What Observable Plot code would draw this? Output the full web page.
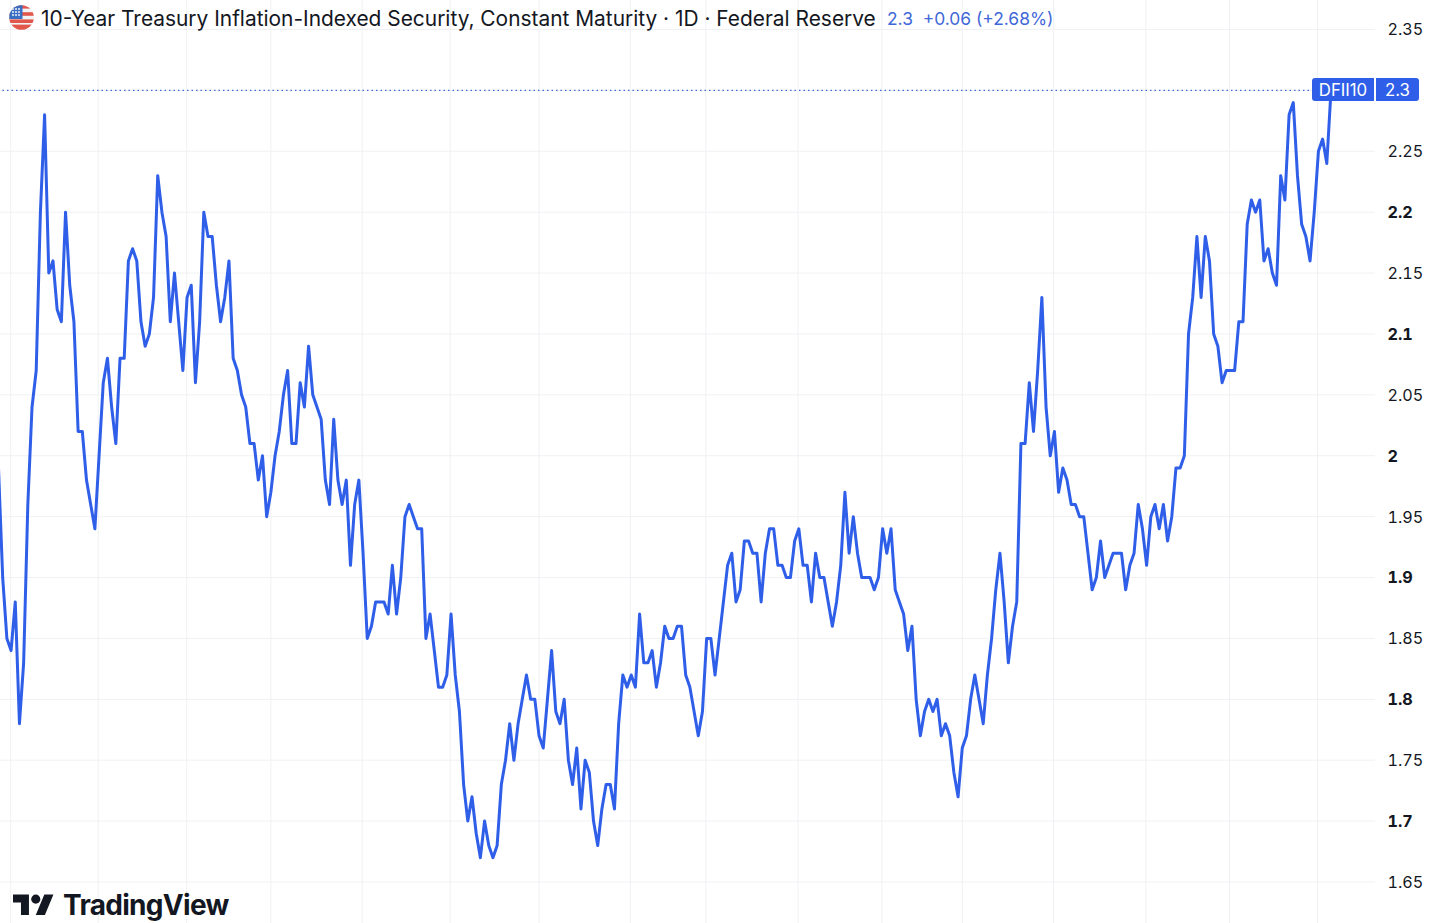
<!DOCTYPE html>
<html>
<head>
<meta charset="utf-8">
<script src="https://cdn.jsdelivr.net/npm/d3@7"></script>
<script src="https://cdn.jsdelivr.net/npm/@observablehq/plot@0.6"></script>
<style>
  html,body{margin:0;padding:0;background:#fff;width:1440px;height:923px;overflow:hidden;font-family:Inter,"Noto Sans",sans-serif;}
  #chart{position:absolute;left:0;top:0;width:1440px;height:923px;}
  #chart svg{display:block;font-family:Inter,sans-serif;}
  .ov{position:absolute;white-space:nowrap;}
  #title{left:41px;top:6px;font-size:20.9px;line-height:25px;color:#131722;}
  #quote{left:887px;top:7px;font-size:17.4px;line-height:23px;color:#3f68d8;}
  #tag{left:1312px;top:78px;width:107px;height:23px;background:#2f5fe8;border-radius:3px;color:#fff;font-size:16.8px;line-height:25px;}
  #tag span{position:absolute;top:0;text-align:center;}
  #sep{position:absolute;left:62px;top:0;width:2px;height:23px;background:#fff;}
  #flag{left:9px;top:5px;}
  #logo{left:13px;top:890px;}
  #brand{left:63px;top:887px;font-size:28px;line-height:36px;font-weight:700;letter-spacing:-0.7px;color:#131722;}
</style>
</head>
<body>
<div id="chart"></div>
<svg id="flag" class="ov" width="25" height="25" viewBox="0 0 25 25">
  <defs><clipPath id="disc"><circle cx="12.5" cy="12.5" r="12.3"/></clipPath></defs>
  <g clip-path="url(#disc)">
    <rect width="25" height="25" fill="#f2f3f5"/>
    <rect y="0" width="25" height="3.6" fill="#e2574c"/>
    <rect y="7.2" width="25" height="3.6" fill="#e2574c"/>
    <rect y="14.4" width="25" height="3.6" fill="#e2574c"/>
    <rect y="19.6" width="25" height="5.4" fill="#e2574c"/>
    <rect width="13.5" height="14" fill="#3b6fc4"/>
    <g fill="#fff"><circle cx="4" cy="4" r=".9"/><circle cx="7" cy="4" r=".9"/><circle cx="10" cy="4" r=".9"/><circle cx="4" cy="7" r=".9"/><circle cx="7" cy="7" r=".9"/><circle cx="10" cy="7" r=".9"/><circle cx="4" cy="10" r=".9"/><circle cx="7" cy="10" r=".9"/><circle cx="10" cy="10" r=".9"/></g>
  </g>
</svg>
<div id="title" class="ov">10-Year Treasury Inflation-Indexed Security, Constant Maturity · 1D · Federal Reserve</div>
<div id="quote" class="ov">2.3 &nbsp;+0.06 (+2.68%)</div>
<div id="tag" class="ov"><span style="left:0;width:62px">DFII10</span><div id="sep"></div><span style="left:64px;width:43px">2.3</span></div>
<svg id="logo" class="ov" width="41" height="30" viewBox="0 0 36 26.3" fill="#131722"><path d="M14 22H7V11H0V4h14v18zM28 22h-8l7.5-18h8L28 22z"/><circle cx="20" cy="8" r="4"/></svg>
<div id="brand" class="ov">TradingView</div>
<script>
const seriesName = "DFII10";
const lastValue = 2.3;
const values = [
1.99,1.90,1.85,1.84,1.88,1.78,1.83,1.96,2.04,2.07,2.20,2.28,2.15,2.16,2.12,2.11,2.20,2.14,2.11,2.02,
2.02,1.98,1.96,1.94,2.00,2.06,2.08,2.04,2.01,2.08,2.08,2.16,2.17,2.16,2.11,2.09,2.10,2.13,2.23,2.20,
2.18,2.11,2.15,2.11,2.07,2.13,2.14,2.06,2.11,2.20,2.18,2.18,2.14,2.11,2.13,2.16,2.08,2.07,2.05,2.04,
2.01,2.01,1.98,2.00,1.95,1.97,2.00,2.02,2.05,2.07,2.01,2.01,2.06,2.04,2.09,2.05,2.04,2.03,1.98,1.96,
2.03,1.98,1.96,1.98,1.91,1.96,1.98,1.92,1.85,1.86,1.88,1.88,1.88,1.87,1.91,1.87,1.90,1.95,1.96,1.95,
1.94,1.94,1.85,1.87,1.84,1.81,1.81,1.82,1.87,1.82,1.79,1.73,1.70,1.72,1.69,1.67,1.70,1.68,1.67,1.68,
1.73,1.75,1.78,1.75,1.78,1.80,1.82,1.80,1.80,1.77,1.76,1.80,1.84,1.79,1.78,1.80,1.75,1.73,1.76,1.71,
1.75,1.74,1.70,1.68,1.71,1.73,1.73,1.71,1.78,1.82,1.81,1.82,1.81,1.87,1.83,1.83,1.84,1.81,1.83,1.86,
1.85,1.85,1.86,1.86,1.82,1.81,1.79,1.77,1.79,1.85,1.85,1.82,1.85,1.88,1.91,1.92,1.88,1.89,1.93,1.93,
1.92,1.92,1.88,1.92,1.94,1.94,1.91,1.91,1.90,1.90,1.93,1.94,1.91,1.91,1.88,1.92,1.90,1.90,1.88,1.86,
1.88,1.91,1.97,1.92,1.95,1.92,1.90,1.90,1.90,1.89,1.90,1.94,1.92,1.94,1.89,1.88,1.87,1.84,1.86,1.80,
1.77,1.79,1.80,1.79,1.80,1.77,1.78,1.77,1.74,1.72,1.76,1.77,1.80,1.82,1.80,1.78,1.82,1.85,1.89,1.92,
1.88,1.83,1.86,1.88,2.01,2.01,2.06,2.02,2.07,2.13,2.04,2.00,2.02,1.97,1.99,1.98,1.96,1.96,1.95,1.95,
1.92,1.89,1.90,1.93,1.90,1.91,1.92,1.92,1.92,1.89,1.91,1.92,1.96,1.94,1.91,1.95,1.96,1.94,1.96,1.93,
1.95,1.99,1.99,2.00,2.10,2.13,2.18,2.13,2.18,2.16,2.10,2.09,2.06,2.07,2.07,2.07,2.11,2.11,2.19,2.21,
2.20,2.21,2.16,2.17,2.15,2.14,2.23,2.21,2.28,2.29,2.23,2.19,2.18,2.16,2.20,2.25,2.26,2.24,2.30
];
const monthStartBars = [2.9,23.8,44.9,65,86.8,107.8,129,150.8,168.8,190.8,210.8,230,251.8,273.8,293.8,314.8];
const priceTicks = [1.65,1.7,1.75,1.8,1.85,1.9,1.95,2,2.05,2.1,2.15,2.2,2.25,2.3,2.35];
const boldTicks = [1.7,1.8,1.9,2,2.1,2.2];
const plainTicks = priceTicks.filter(t => !boldTicks.includes(t) && t !== lastValue);
const bars = values.map((v,i)=>({bar:i,value:v}));
const grid = "#f0f1f4", ink = "#131722", lineBlue = "#2f5fe8";

const chart = Plot.plot({
  width:1440, height:923,
  marginLeft:0, marginTop:0, marginBottom:0, marginRight:65,
  x:{type:"linear", domain:[0,values.length-1], range:[-2,1330.5], axis:null},
  y:{type:"linear", domain:[1.65,2.35], range:[881.5,29], axis:null},
  style:{background:"#fff", overflow:"visible"},
  marks:[
    Plot.gridX(monthStartBars,{stroke:grid,strokeOpacity:1,strokeWidth:1}),
    Plot.gridY(priceTicks,{stroke:grid,strokeOpacity:1,strokeWidth:1}),
    Plot.ruleY([lastValue],{stroke:"#3f68d8",strokeWidth:1.2,strokeDasharray:"1.5 3",x1:0,x2:values.length-1}),
    Plot.line(bars,{x:"bar",y:"value",stroke:lineBlue,strokeWidth:3,curve:"linear"}),
    Plot.axisY({anchor:"right",ticks:plainTicks,tickSize:0,tickPadding:12,dy:0.7,fontSize:16.2,fontWeight:400,fill:ink,tickFormat:d=>String(d),label:null}),
    Plot.axisY({anchor:"right",ticks:boldTicks,tickSize:0,tickPadding:12,dy:0.7,fontSize:16.2,fontWeight:700,fill:ink,tickFormat:d=>String(d),label:null})
  ]
});
document.getElementById("chart").appendChild(chart);
</script>
</body>
</html>
